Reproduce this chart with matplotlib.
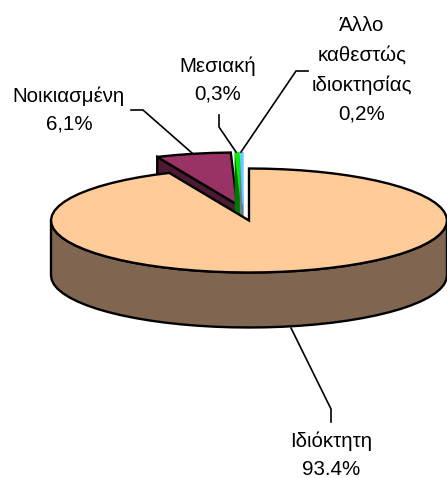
import numpy as np
import matplotlib
matplotlib.use("Agg")
import matplotlib.pyplot as plt
from matplotlib.patches import Polygon

categories = ["Ιδιόκτητη", "Νοικιασμένη", "Μεσιακή", "Άλλο\nκαθεστώς\nιδιοκτησίας"]
values = [93.4, 6.1, 0.3, 0.2]
value_labels = ["93.4%", "6,1%", "0,3%", "0,2%"]
top_colors = ["#FFCC99", "#993366", "#00EE00", "#66CCFF"]
side_colors = ["#806650", "#4D1A33", "#007700", "#667F99"]
explode = [(0, 0), (-12, -16), (-7.5, -16), (-6, -16)]

CX, CY, A, B, DEPTH = 249, 220.5, 198, 52, 55
EW = 1.7

plt.rcParams["font.family"] = ["Liberation Sans", "DejaVu Sans"]
fig = plt.figure(figsize=(4.47, 4.78), dpi=100)
ax = fig.add_axes([0, 0, 1, 1])
ax.set_xlim(0, 447)
ax.set_ylim(478, 0)
ax.axis("off")

def rim(t0, t1, cx, cy):
    n = max(2, int(abs(t1 - t0) / 5) + 1)
    t = np.radians(np.linspace(t0, t1, n))
    return np.column_stack([cx + A * np.sin(t), cy - B * np.cos(t)])

# clockwise from 12 o'clock
edges = np.concatenate([[0], np.cumsum(values)]) / np.sum(values) * 360

# exploded slices: back to front
for i in [1, 2, 3]:
    dx, dy = explode[i]
    cx, cy = CX + dx, CY + dy
    arc = rim(edges[i], edges[i + 1], cx, cy)
    if i == 1:
        ec_top, ec_side, lw = "black", "black", EW
    else:
        ec_top, ec_side, lw = top_colors[i], side_colors[i], 1.0
    wall = np.array([[cx, cy], arc[0], arc[0] + [0, DEPTH], [cx, cy + DEPTH]])
    ax.add_patch(Polygon(wall, closed=True, fc=side_colors[i], ec=ec_side, lw=lw, zorder=2 + i * 0.1))
    ax.add_patch(Polygon(np.vstack([[cx, cy], arc]), closed=True, fc=top_colors[i], ec=ec_top, lw=lw,
                         zorder=2.05 + i * 0.1))

# main slice
front = rim(90, 270, CX, CY)
ax.add_patch(Polygon(np.vstack([front, front[::-1] + [0, DEPTH]]), closed=True,
                     fc=side_colors[0], ec="black", lw=EW, zorder=3))
arc = rim(edges[0], edges[1], CX, CY)
ax.add_patch(Polygon(np.vstack([[CX, CY], arc]), closed=True, fc=top_colors[0], ec="black",
                     lw=EW, zorder=3.1))

# leader lines
leaders = [
    ([291, 331, 331], [328, 409, 422]),
    ([131, 143, 192], [110, 110, 153]),
    ([219, 219, 236], [115, 127, 152]),
    ([308, 296, 241], [71, 71, 152]),
]
for lx, ly in leaders:
    ax.plot(lx, ly, color="black", lw=1.2, zorder=4, solid_joinstyle="miter")

# labels
label_pos = [(331, 455), (69, 110), (218, 80), (362, 70)]
for c, v, (x, y) in zip(categories, value_labels, label_pos):
    ax.text(x, y, c + "\n" + v, ha="center", va="center", fontsize=14.8, color="black",
            linespacing=1.62 if "\n" not in c else 1.68, zorder=5)

fig.savefig("out.png", dpi=100)
